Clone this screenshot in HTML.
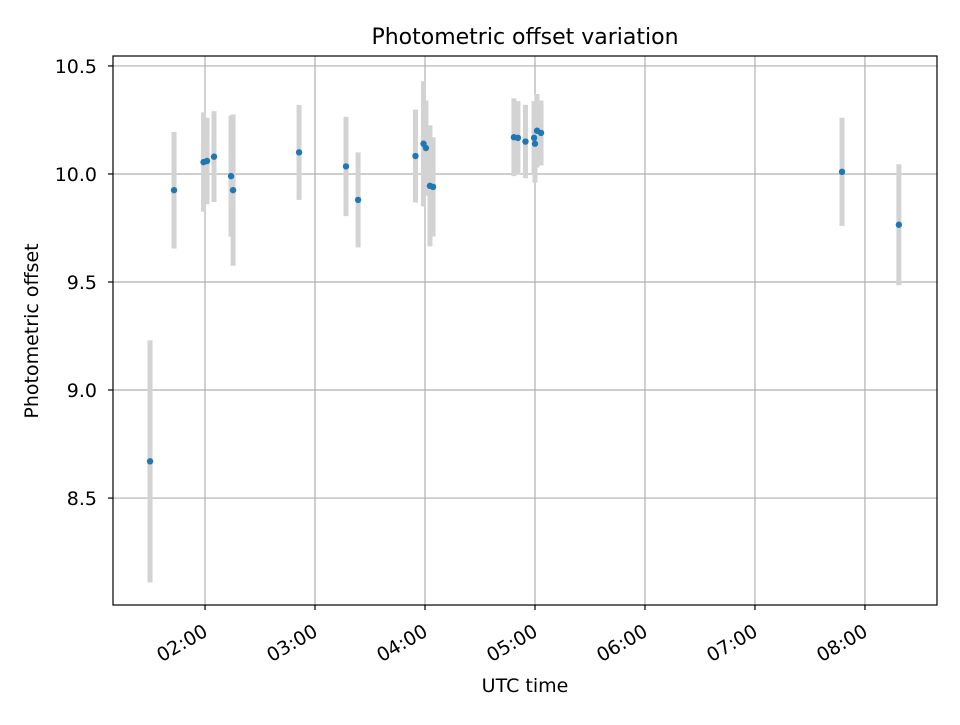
<!DOCTYPE html>
<html><head><meta charset="utf-8"><style>body{margin:0;background:#fff}svg{font-family:"DejaVu Sans","Liberation Sans",sans-serif}</style></head>
<body>
<svg id="c" width="960" height="720"></svg>
<script>
const timesMin=[90.0,103.1,119.2,121.1,124.9,134.2,135.3,171.3,196.9,203.5,234.8,239.2,240.5,242.7,244.4,288.5,290.7,294.8,299.5,300.0,301.1,303.3,467.5,498.5];
const offsets=[8.67,9.925,10.055,10.06,10.08,9.99,9.925,10.10,10.035,9.88,10.083,10.14,10.12,9.945,9.94,10.17,10.167,10.15,10.167,10.14,10.2,10.19,10.01,9.765];
const errors=[0.56,0.27,0.23,0.2,0.21,0.28,0.35,0.22,0.23,0.22,0.215,0.29,0.22,0.28,0.23,0.18,0.17,0.17,0.17,0.18,0.17,0.15,0.25,0.28];
const yTicks=[8.5,9.0,9.5,10.0,10.5];
const xTicksMin=[120,180,240,300,360,420,480];
const xTickLabels=["02:00","03:00","04:00","05:00","06:00","07:00","08:00"];
const L=113,R=937,T=56,B=605,X0=69.8,X1=519.3,Y0=8.005,Y1=10.546;
const sx=m=>L+(m-X0)/(X1-X0)*(R-L), sy=v=>B-(v-Y0)/(Y1-Y0)*(B-T);
const svg=document.getElementById('c');const NS='http://www.w3.org/2000/svg';
function mk(t,a,p){const e=document.createElementNS(NS,t);for(const k in a)e.setAttribute(k,a[k]);(p||svg).appendChild(e);return e;}
const grid=mk('g',{});
xTicksMin.forEach((m,i)=>{const x=sx(m);
 mk('line',{x1:x,x2:x,y1:T,y2:B,stroke:'#b0b0b0','stroke-width':1.2},grid);
 mk('line',{x1:x,x2:x,y1:B,y2:B+5,stroke:'#000','stroke-width':1.2});
 const ax=x+4, ay=B+30;
 const t=mk('text',{x:ax,y:ay,'font-size':'19','text-anchor':'end',transform:`rotate(-30 ${ax} ${ay})`});
 t.textContent=xTickLabels[i];});
yTicks.forEach(v=>{const y=sy(v);
 mk('line',{x1:L,x2:R,y1:y,y2:y,stroke:'#b0b0b0','stroke-width':1.2},grid);
 mk('line',{x1:L-5,x2:L,y1:y,y2:y,stroke:'#000','stroke-width':1.2});
 const t=mk('text',{x:L-16,y:y+7,'font-size':'19','text-anchor':'end'});
 t.textContent=v.toFixed(1);});
const eb=mk('g',{});
timesMin.forEach((m,i)=>{const x=sx(m);const b=mk('line',{x1:x,x2:x,y1:sy(offsets[i]+errors[i]),y2:sy(offsets[i]-errors[i]),stroke:'#d3d3d3','stroke-width':5},eb);
 });
const pts=mk('g',{});
timesMin.forEach((m,i)=>{const c=mk('circle',{cx:sx(m),cy:sy(offsets[i]),r:3.2,fill:'#1f77b4'},pts);
 });
const fr=mk('rect',{x:L,y:T,width:R-L,height:B-T,fill:'none',stroke:'#000','stroke-width':1.2});
let t=mk('text',{x:525,y:44,'font-size':'22','text-anchor':'middle'});t.textContent='Photometric offset variation';
t=mk('text',{x:525,y:692,'font-size':'19','text-anchor':'middle'});t.textContent='UTC time';
t=mk('text',{x:38,y:331,'font-size':'19','text-anchor':'middle',transform:'rotate(-90 38 331)'});t.textContent='Photometric offset';
</script>
</body></html>
